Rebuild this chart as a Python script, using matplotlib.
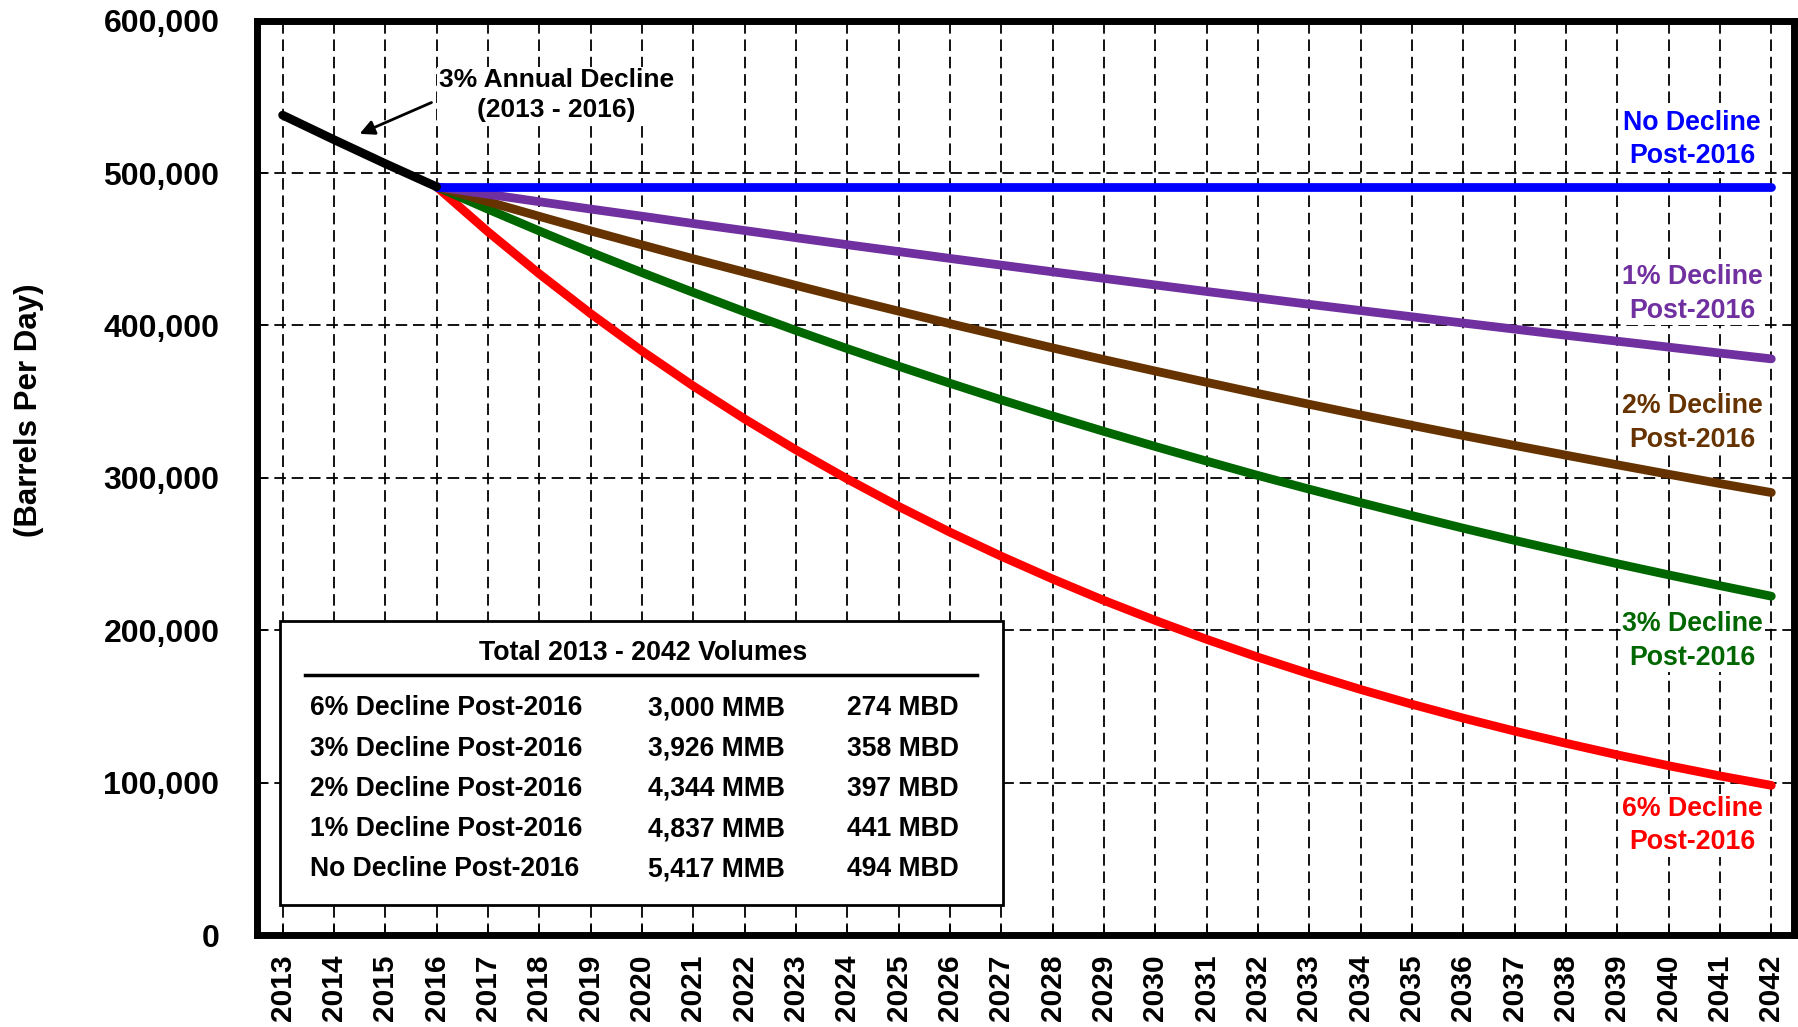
import numpy as np
import matplotlib
matplotlib.use('Agg')
import matplotlib.pyplot as plt
from matplotlib.ticker import FuncFormatter
from matplotlib.patches import Rectangle

plt.rcParams['font.family'] = ['Liberation Sans', 'DejaVu Sans']
plt.rcParams['font.weight'] = 'bold'

# data (barrels per day)
years = list(range(2013, 2043))
hist_years = [2013, 2014, 2015, 2016]
hist_vals = [538000, 521900, 506200, 491000]

proj_years = list(range(2016, 2043))
no_decline = [491000] * 27
decl_1 = [491000, 486100, 481200, 476400, 471700, 466900, 462300, 457600, 453000,
          448500, 444000, 439600, 435200, 430900, 426600, 422300, 418100, 413900,
          409800, 405700, 401600, 397600, 393600, 389700, 385800, 381900, 378100]
decl_2 = [491000, 481200, 471600, 462100, 452900, 443800, 435000, 426300, 417700,
          409400, 401200, 393200, 385300, 377600, 370100, 362700, 355400, 348300,
          341300, 334500, 327800, 321300, 314900, 308600, 302400, 296300, 290400]
decl_3 = [491000, 476300, 462000, 448100, 434700, 421700, 409000, 396700, 384800,
          373300, 362100, 351200, 340700, 330500, 320600, 311000, 301600, 292600,
          283800, 275300, 267000, 259000, 251300, 243700, 236400, 229300, 222400]
decl_6 = [491000, 461500, 433900, 407800, 383300, 360300, 338700, 318400, 299300,
          281300, 264400, 248600, 233700, 219600, 206500, 194100, 182400, 171500,
          161200, 151500, 142400, 133900, 125900, 118300, 111200, 104500, 98300]

series_names = ['6% Decline', '3% Decline', '2% Decline', '1% Decline', 'No Decline']
series_vals = [decl_6, decl_3, decl_2, decl_1, no_decline]
series_colors = ['#FF0000', '#006600', '#663300', '#7030A0', '#0000FF']
label_y = [72000, 193000, 336000, 420600, 522000]

table_rows = ['6% Decline Post-2016', '3% Decline Post-2016', '2% Decline Post-2016',
              '1% Decline Post-2016', 'No Decline Post-2016']
table_mmb = ['3,000 MMB', '3,926 MMB', '4,344 MMB', '4,837 MMB', '5,417 MMB']
table_mbd = ['274 MBD', '358 MBD', '397 MBD', '441 MBD', '494 MBD']

fig = plt.figure(figsize=(17.98, 10.27), dpi=100)
ax = fig.add_axes([0.1429, 0.0894, 0.8551, 0.8905])

# projection lines
for vals, col in zip(series_vals, series_colors):
    ax.plot(proj_years, vals, color=col, lw=6.3, solid_capstyle='round', zorder=4)
ax.plot(hist_years, hist_vals, color='black', lw=6.3, solid_capstyle='round', zorder=5)

ax.set_xlim(2012.5, 2042.45)
ax.set_ylim(0, 600000)
ax.set_xticks(years)
ax.set_xticklabels([str(y) for y in years], rotation=90, fontsize=21.5, fontweight='bold')
ax.set_yticks(np.arange(0, 600001, 100000))
ax.yaxis.set_major_formatter(FuncFormatter(lambda v, p: f'{int(v):,}'))
for lab in ax.get_yticklabels():
    lab.set_fontsize(23)
    lab.set_fontweight('bold')
ax.tick_params(axis='x', direction='in', length=7, width=1.2, pad=14)
ax.tick_params(axis='y', direction='in', length=7, width=1.2, pad=27)
ax.grid(True, color='black', lw=1.3, linestyle=(0, (6.4, 3.2)), zorder=1)
ax.set_axisbelow(True)
for sp in ax.spines.values():
    sp.set_linewidth(5)
    sp.set_zorder(6)

fig.text(0.016, 0.601, '(Barrels Per Day)', rotation=90, ha='center', va='center',
         fontsize=22.5, fontweight='bold')

# annotation for the historical decline
ax.annotate('', xy=(2014.45, 525000), xytext=(2015.95, 547000),
            arrowprops=dict(arrowstyle='-|>', color='black', lw=2, mutation_scale=22),
            zorder=6)
ax.text(2018.33, 551000, '3% Annual Decline\n(2013 - 2016)', ha='center', va='center',
        fontsize=19, fontweight='bold', linespacing=1.3, zorder=6,
        bbox=dict(facecolor='white', edgecolor='none', pad=1))

# right-hand labels
for name, col, ly in zip(series_names, series_colors, label_y):
    ax.text(2040.46, ly, name + '\nPost-2016', color=col, ha='center', va='center',
            fontsize=19.3, fontweight='bold', linespacing=1.38, zorder=3,
            bbox=dict(facecolor='white', edgecolor='none', pad=1))

# totals box
box = Rectangle((0.0149, 0.0326), 0.4706, 0.3112, transform=ax.transAxes,
                facecolor='white', edgecolor='black', lw=2, zorder=3)
ax.add_patch(box)
ax.text(0.2512, 0.309, 'Total 2013 - 2042 Volumes', transform=ax.transAxes,
        ha='center', va='center', fontsize=19.3, fontweight='bold', zorder=4)
ax.plot([0.0313, 0.4683], [0.285, 0.285], transform=ax.transAxes, color='black',
        lw=2.5, zorder=4)
row_y = [0.248, 0.204, 0.160, 0.116, 0.072]
for ry, a, b, c in zip(row_y, table_rows, table_mmb, table_mbd):
    ax.text(0.0343, ry, a, transform=ax.transAxes, ha='left', va='center',
            fontsize=19.1, fontweight='bold', zorder=4)
    ax.text(0.2543, ry, b, transform=ax.transAxes, ha='left', va='center',
            fontsize=19.1, fontweight='bold', zorder=4)
    ax.text(0.3840, ry, c, transform=ax.transAxes, ha='left', va='center',
            fontsize=19.1, fontweight='bold', zorder=4)

fig.savefig('out.png', dpi=100)
